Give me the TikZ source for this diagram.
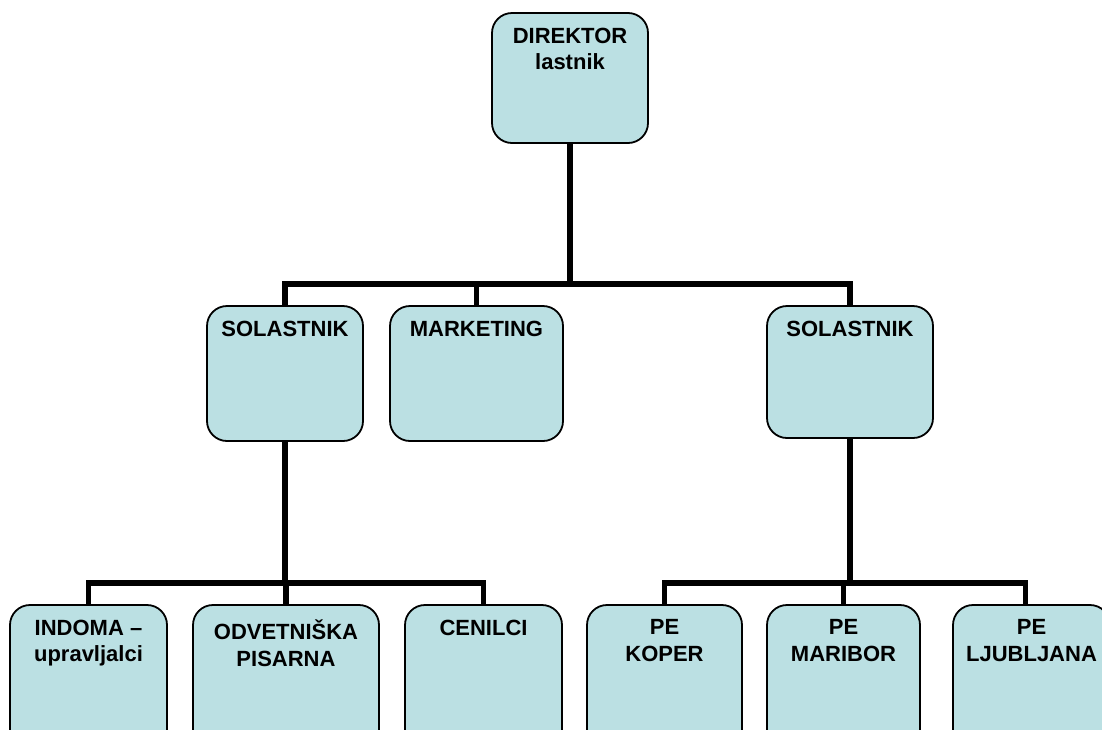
\documentclass[tikz,border=0pt]{standalone}
\usepackage{fontspec}
\setmainfont{Liberation Sans}
\definecolor{boxfill}{RGB}{187,224,227}
\tikzset{
  orgbox/.style={draw=black, line width=1.8pt, fill=boxfill, rounded corners=20pt, inner sep=0pt},
  lbl/.style={anchor=north, inner sep=0pt, align=center, font=\fontsize{22}{26.5}\selectfont\bfseries},
  conn/.style={draw=black, line width=5.5pt}
}
\newcommand{\orgnode}[6]{%
  \node[orgbox, minimum width={(#4)-(#2)}, minimum height={(#5)-(#3)}] (#1) at ({((#2)+(#4))/2},{((#3)+(#5))/2}) {};
  \node[lbl] (#1-t) at ([yshift=-15.5pt]#1.north) {#6};
}
\begin{document}
\begin{tikzpicture}[x=1pt,y=-1pt]
\useasboundingbox (0,0) rectangle (1102,729);
\clip (0,0) rectangle (1102,729);
\coordinate (busA) at (570,284);
\coordinate (busB) at (570,583);
\orgnode{dir}{492}{13}{648}{143}{DIREKTOR\\lastnik}
\orgnode{sola}{207}{306}{363}{441}{SOLASTNIK}
\orgnode{mkt}{390}{306}{563}{441}{MARKETING}
\orgnode{solb}{767}{306}{933}{438}{SOLASTNIK}
\orgnode{ind}{10}{605}{167}{760}{INDOMA --\\upravljalci}
\orgnode{odv}{193}{605}{379}{760}{ODVETNIŠKA\\PISARNA}
\orgnode{cen}{405}{605}{562}{760}{CENILCI}
\orgnode{kop}{587}{605}{742}{760}{PE\\KOPER}
\orgnode{mar}{767}{605}{920}{760}{PE\\MARIBOR}
\orgnode{lju}{953}{605}{1110}{760}{PE\\LJUBLJANA}
\draw[conn] (dir.south) -- (dir.south |- busA);
\draw[conn] (sola.north) -- (sola.north |- busA) -- (solb.north |- busA) -- (solb.north);
\draw[conn] (mkt.north) -- (mkt.north |- busA);
\draw[conn] (sola.south) -- (sola.south |- busB);
\draw[conn] (ind.north) -- (ind.north |- busB) -- (cen.north |- busB) -- (cen.north);
\draw[conn] (odv.north) -- (odv.north |- busB);
\draw[conn] (solb.south) -- (solb.south |- busB);
\draw[conn] ([xshift=-6pt]lju.north) -- ([xshift=-6pt]lju.north |- busB) -- (kop.north |- busB) -- (kop.north);
\draw[conn] (mar.north) -- (mar.north |- busB);
\end{tikzpicture}
\end{document}
